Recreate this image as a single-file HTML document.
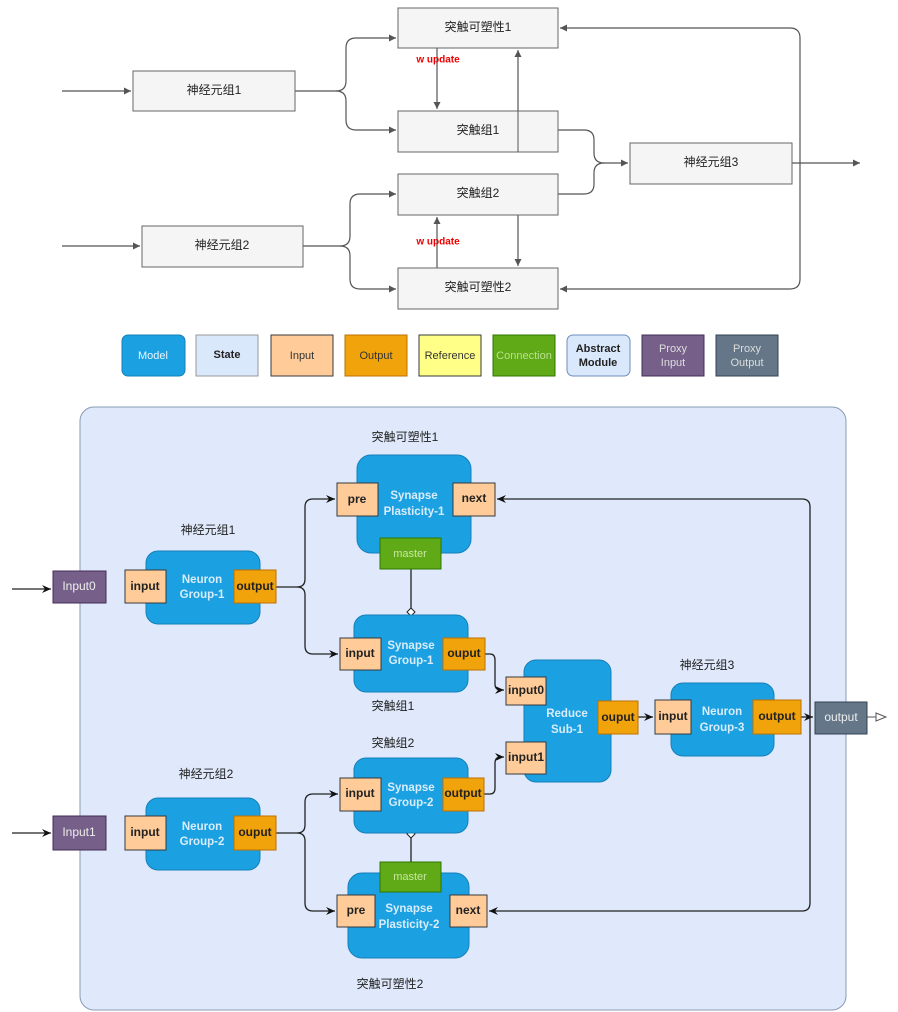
<!DOCTYPE html>
<html><head><meta charset="utf-8"><style>
html,body{margin:0;padding:0;background:#fff}
svg{display:block;font-family:"Liberation Sans","Noto Sans CJK SC",sans-serif}
.b{fill:#f5f5f5;stroke:#666;stroke-width:1}
.l{fill:none;stroke:#555;stroke-width:1.2}
.k{fill:none;stroke:#222;stroke-width:1.3}
.cn{font-size:12px;fill:#222;text-anchor:middle;dominant-baseline:middle}
.m{fill:#1ba1e2;stroke:#1580b8}
.ip{fill:#ffcc99;stroke:#36393d}
.op{fill:#f0a30a;stroke:#bd7000}
.pt{font-size:12px;font-weight:bold;fill:#222;text-anchor:middle;dominant-baseline:middle}
.mt{font-size:11.5px;font-weight:bold;fill:#d8ecfa;text-anchor:middle;dominant-baseline:middle}
.lg{font-size:11px;text-anchor:middle;dominant-baseline:middle}
</style></head><body>
<svg width="898" height="1012" viewBox="0 0 898 1012">
<defs>
<marker id="a" markerWidth="8" markerHeight="8" refX="7" refY="4" orient="auto" markerUnits="userSpaceOnUse"><path d="M0,0.5 L7,4 L0,7.5 Z" fill="#555"/></marker>
<marker id="k" markerWidth="10" markerHeight="10" refX="9" refY="5" orient="auto" markerUnits="userSpaceOnUse"><path d="M0,1 L9,5 L0,9 L3,5 Z" fill="#111"/></marker>
<marker id="h" markerWidth="12" markerHeight="10" refX="11" refY="5" orient="auto" markerUnits="userSpaceOnUse"><path d="M1,1 L11,5 L1,9 Z" fill="#fff" stroke="#555"/></marker>
</defs>
<!-- top diagram connectors -->
<g class="l">
<path d="M62,91 H131" marker-end="url(#a)"/>
<path d="M295,91 H336 Q346,91 346,81 V48 Q346,38 356,38 H396" marker-end="url(#a)"/>
<path d="M336,91 Q346,91 346,101 V120 Q346,130 356,130 H396" marker-end="url(#a)"/>
<path d="M437,48 V109" marker-end="url(#a)"/>
<path d="M518,152 V50" marker-end="url(#a)"/>
<path d="M558,130 H584 Q594,130 594,140 V153 Q594,163 604,163 H628" marker-end="url(#a)"/>
<path d="M558,194 H584 Q594,194 594,184 V173 Q594,163 604,163"/>
<path d="M792,163 H860" marker-end="url(#a)"/>
<path d="M800,163 V38 Q800,28 790,28 H560" marker-end="url(#a)"/>
<path d="M800,163 V279 Q800,289 790,289 H560" marker-end="url(#a)"/>
<path d="M62,246 H140" marker-end="url(#a)"/>
<path d="M303,246 H340 Q350,246 350,236 V204 Q350,194 360,194 H396" marker-end="url(#a)"/>
<path d="M340,246 Q350,246 350,256 V279 Q350,289 360,289 H396" marker-end="url(#a)"/>
<path d="M437,268 V217" marker-end="url(#a)"/>
<path d="M518,215 V266" marker-end="url(#a)"/>
</g>
<rect class="b" x="133" y="71" width="162" height="40"/><text class="cn" x="214" y="91">神经元组1</text>
<rect class="b" x="398" y="8" width="160" height="40"/><text class="cn" x="478" y="28">突触可塑性1</text>
<rect class="b" x="398" y="111" width="160" height="41"/><text class="cn" x="478" y="131">突触组1</text>
<rect class="b" x="630" y="143" width="162" height="41"/><text class="cn" x="711" y="163">神经元组3</text>
<rect class="b" x="398" y="174" width="160" height="41"/><text class="cn" x="478" y="194">突触组2</text>
<rect class="b" x="142" y="226" width="161" height="41"/><text class="cn" x="222" y="246">神经元组2</text>
<rect class="b" x="398" y="268" width="160" height="41"/><text class="cn" x="478" y="288">突触可塑性2</text>
<line x1="518" y1="111" x2="518" y2="152" stroke="#555"/>
<text x="438" y="60" font-size="10" font-weight="bold" fill="#e00" text-anchor="middle" dominant-baseline="middle">w update</text>
<text x="438" y="242" font-size="10" font-weight="bold" fill="#e00" text-anchor="middle" dominant-baseline="middle">w update</text>
<!-- legend -->
<rect x="122" y="335" width="63" height="41" rx="6" fill="#1ba1e2" stroke="#1580b8"/><text class="lg" x="153" y="356" fill="#e8f4fc">Model</text>
<rect x="196" y="335" width="62" height="41" fill="#dae8fc" stroke="#999"/><text class="lg" x="227" y="355" font-size="13" font-weight="bold" fill="#222">State</text>
<rect x="271" y="335" width="62" height="41" fill="#ffcc99" stroke="#36393d"/><text class="lg" x="302" y="356" fill="#333">Input</text>
<rect x="345" y="335" width="62" height="41" fill="#f0a30a" stroke="#bd7000"/><text class="lg" x="376" y="356" fill="#333">Output</text>
<rect x="419" y="335" width="62" height="41" fill="#ffff88" stroke="#36393d"/><text class="lg" x="450" y="356" fill="#333">Reference</text>
<rect x="493" y="335" width="62" height="41" fill="#60a917" stroke="#2d7600"/><text class="lg" x="524" y="356" fill="#b8e090">Connection</text>
<rect x="567" y="335" width="63" height="41" rx="6" fill="#dae8fc" stroke="#6c8ebf"/><text class="lg" x="598" y="349" font-weight="bold" fill="#222">Abstract</text><text class="lg" x="598" y="363" font-weight="bold" fill="#222">Module</text>
<rect x="642" y="335" width="62" height="41" fill="#76608a" stroke="#432d57"/><text class="lg" x="673" y="349" fill="#ddd">Proxy</text><text class="lg" x="673" y="363" fill="#ddd">Input</text>
<rect x="716" y="335" width="62" height="41" fill="#647687" stroke="#314354"/><text class="lg" x="747" y="349" fill="#ddd">Proxy</text><text class="lg" x="747" y="363" fill="#ddd">Output</text>
<!-- bottom panel -->
<rect x="80" y="407" width="766" height="603" rx="14" fill="#dfe9fb" stroke="#8a9bb5"/>
<!-- connectors -->
<g class="k">
<path d="M12,589 H51" marker-end="url(#k)"/>
<path d="M12,833 H51" marker-end="url(#k)"/>
<path d="M276,587 H297 Q305,587 305,579 V507 Q305,499 313,499 H335" marker-end="url(#k)"/>
<path d="M297,587 Q305,587 305,595 V646 Q305,654 313,654 H338" marker-end="url(#k)"/>
<path d="M276,833 H297 Q305,833 305,825 V802 Q305,794 313,794 H338" marker-end="url(#k)"/>
<path d="M297,833 Q305,833 305,841 V903 Q305,911 313,911 H335" marker-end="url(#k)"/>
<path d="M485,654 H490 Q495,654 495,660 V684 Q495,690 501,690 H504" marker-end="url(#k)"/>
<path d="M484,794 H490 Q495,794 495,788 V763 Q495,757 501,757 H504" marker-end="url(#k)"/>
<path d="M638,717 H653" marker-end="url(#k)"/>
<path d="M801,717 H813" marker-end="url(#k)"/>
<path d="M810,717 V507 Q810,499 802,499 H497" marker-end="url(#k)"/>
<path d="M810,717 V903 Q810,911 802,911 H489" marker-end="url(#k)"/>
<path d="M411,569 V609"/>
<path d="M411,835 V862"/>
</g>
<path d="M867,717 H886" stroke="#555" fill="none" marker-end="url(#h)"/>
<path d="M411,608 L415,612 L411,616 L407,612 Z" fill="#fff" stroke="#222"/>
<path d="M411,830 L415,834 L411,838 L407,834 Z" fill="#fff" stroke="#222"/>
<!-- proxies -->
<rect x="53" y="571" width="53" height="32" fill="#76608a" stroke="#432d57"/><text x="79" y="587" class="pt" fill="#eee" style="fill:#eee;font-weight:normal">Input0</text>
<rect x="53" y="816" width="53" height="34" fill="#76608a" stroke="#432d57"/><text x="79" y="833" class="pt" style="fill:#eee;font-weight:normal">Input1</text>
<rect x="815" y="702" width="52" height="32" fill="#647687" stroke="#314354"/><text x="841" y="718" class="pt" style="fill:#eee;font-weight:normal">output</text>
<!-- NG1 -->
<text class="cn" x="208" y="531">神经元组1</text>
<rect class="m" x="146" y="551" width="114" height="73" rx="12"/>
<text class="mt" x="202" y="580">Neuron</text><text class="mt" x="202" y="595">Group-1</text>
<rect class="ip" x="125" y="570" width="41" height="33"/><text class="pt" x="145" y="587">input</text>
<rect class="op" x="234" y="570" width="42" height="33"/><text class="pt" x="255" y="587">output</text>
<!-- SP1 -->
<text class="cn" x="405" y="438">突触可塑性1</text>
<rect class="m" x="357" y="455" width="114" height="98" rx="14"/>
<text class="mt" x="414" y="496">Synapse</text><text class="mt" x="414" y="512">Plasticity-1</text>
<rect class="ip" x="337" y="483" width="41" height="33"/><text class="pt" x="357" y="500">pre</text>
<rect class="ip" x="453" y="483" width="42" height="33"/><text class="pt" x="474" y="499">next</text>
<rect x="380" y="538" width="61" height="31" fill="#60a917" stroke="#2d7600"/><text class="lg" x="410" y="554" font-size="9" fill="#c8e8a0">master</text>
<!-- SG1 -->
<rect class="m" x="354" y="615" width="114" height="77" rx="12"/>
<text class="mt" x="411" y="646">Synapse</text><text class="mt" x="411" y="661">Group-1</text>
<rect class="ip" x="340" y="638" width="41" height="32"/><text class="pt" x="360" y="654">input</text>
<rect class="op" x="443" y="638" width="42" height="32"/><text class="pt" x="464" y="654">ouput</text>
<text class="cn" x="393" y="707">突触组1</text>
<!-- Reduce -->
<rect class="m" x="524" y="660" width="87" height="122" rx="12"/>
<text class="mt" x="567" y="714">Reduce</text><text class="mt" x="567" y="730">Sub-1</text>
<rect class="ip" x="506" y="677" width="40" height="28"/><text class="pt" x="526" y="691">input0</text>
<rect class="ip" x="506" y="742" width="40" height="32"/><text class="pt" x="526" y="758">input1</text>
<rect class="op" x="598" y="701" width="40" height="33"/><text class="pt" x="618" y="718">ouput</text>
<!-- NG3 -->
<text class="cn" x="707" y="666">神经元组3</text>
<rect class="m" x="671" y="683" width="103" height="73" rx="12"/>
<text class="mt" x="722" y="712">Neuron</text><text class="mt" x="722" y="728">Group-3</text>
<rect class="ip" x="655" y="700" width="36" height="34"/><text class="pt" x="673" y="717">input</text>
<rect class="op" x="753" y="700" width="48" height="34"/><text class="pt" x="777" y="717">output</text>
<!-- SG2 -->
<text class="cn" x="393" y="744">突触组2</text>
<rect class="m" x="354" y="758" width="114" height="75" rx="12"/>
<text class="mt" x="411" y="788">Synapse</text><text class="mt" x="411" y="803">Group-2</text>
<rect class="ip" x="340" y="778" width="41" height="33"/><text class="pt" x="360" y="794">input</text>
<rect class="op" x="443" y="778" width="41" height="33"/><text class="pt" x="463" y="794">output</text>
<!-- SP2 -->
<rect class="m" x="348" y="873" width="121" height="85" rx="14"/>
<text class="mt" x="409" y="909">Synapse</text><text class="mt" x="409" y="925">Plasticity-2</text>
<rect x="380" y="862" width="61" height="30" fill="#60a917" stroke="#2d7600"/><text class="lg" x="410" y="877" font-size="9" fill="#c8e8a0">master</text>
<rect class="ip" x="337" y="895" width="38" height="32"/><text class="pt" x="356" y="911">pre</text>
<rect class="ip" x="450" y="895" width="37" height="32"/><text class="pt" x="468" y="911">next</text>
<text class="cn" x="390" y="985">突触可塑性2</text>
<!-- NG2 -->
<text class="cn" x="206" y="775">神经元组2</text>
<rect class="m" x="146" y="798" width="114" height="72" rx="12"/>
<text class="mt" x="202" y="827">Neuron</text><text class="mt" x="202" y="842">Group-2</text>
<rect class="ip" x="125" y="816" width="41" height="34"/><text class="pt" x="145" y="833">input</text>
<rect class="op" x="234" y="816" width="42" height="34"/><text class="pt" x="255" y="833">ouput</text>
</svg>
</body></html>
